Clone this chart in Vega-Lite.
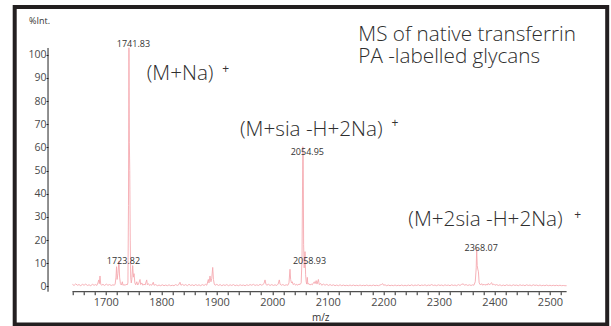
{
  "$schema": "https://vega.github.io/schema/vega-lite/v6.json",
  "width": 592.5,
  "height": 317.5,
  "autosize": "none",
  "padding": {"left": 14.7, "top": 7, "right": 3.8, "bottom": 1.5},
  "background": "white",
  "config": {
    "view": {"stroke": "#231f20", "strokeWidth": 4},
    "font": "Open Sans",
    "axis": {"labelFont": "Open Sans", "titleFont": "Open Sans", "grid": false}
  },
  "datasets": {
    "spec": [
      {"mz":1640,"int":0.9},{"mz":1643,"int":0.4},{"mz":1646,"int":1.1},{"mz":1649,"int":0.5},{"mz":1652,"int":0.8},{"mz":1655,"int":0.3},{"mz":1658,"int":0.9},{"mz":1661,"int":0.5},{"mz":1664,"int":1.0},{"mz":1667,"int":0.4},{"mz":1670,"int":0.7},{"mz":1673,"int":0.3},{"mz":1676,"int":0.9},{"mz":1679,"int":0.5},{"mz":1682,"int":0.8},{"mz":1684,"int":0.4},
      {"mz":1686,"int":1.5},{"mz":1687.5,"int":2.8},{"mz":1688.5,"int":1.2},{"mz":1689.7,"int":4.5},{"mz":1691,"int":1.0},{"mz":1692.5,"int":0.5},{"mz":1695,"int":0.9},{"mz":1698,"int":0.4},{"mz":1701,"int":1.0},{"mz":1704,"int":0.5},{"mz":1707,"int":0.8},{"mz":1710,"int":0.4},{"mz":1713,"int":0.7},{"mz":1715.5,"int":0.5},
      {"mz":1717,"int":1.0},{"mz":1718.5,"int":4.0},{"mz":1719.5,"int":8.5},{"mz":1720.5,"int":3.0},{"mz":1722,"int":5.5},{"mz":1723.82,"int":11.0},{"mz":1725,"int":4.0},{"mz":1726.5,"int":1.2},{"mz":1728,"int":0.6},{"mz":1730,"int":2.0},{"mz":1731,"int":0.5},{"mz":1733,"int":0.8},{"mz":1735,"int":0.4},{"mz":1737,"int":1.0},{"mz":1738.5,"int":0.6},{"mz":1740,"int":1.5},
      {"mz":1741.0,"int":35},{"mz":1741.83,"int":103},{"mz":1742.6,"int":62},{"mz":1743.3,"int":50},{"mz":1744.2,"int":20},{"mz":1745,"int":4},{"mz":1746,"int":1.5},{"mz":1747,"int":3},{"mz":1748.6,"int":9},{"mz":1749.8,"int":4},{"mz":1751,"int":5.5},{"mz":1752.5,"int":1.5},{"mz":1754,"int":0.7},{"mz":1756,"int":2.0},{"mz":1757.5,"int":0.6},{"mz":1759,"int":1.0},{"mz":1761.8,"int":3.0},{"mz":1763,"int":0.8},{"mz":1765,"int":1.5},{"mz":1767,"int":0.5},{"mz":1769,"int":1.0},{"mz":1771,"int":0.6},{"mz":1773.8,"int":2.8},{"mz":1775,"int":0.7},{"mz":1777,"int":1.2},{"mz":1779,"int":0.4},{"mz":1781,"int":0.8},{"mz":1783,"int":0.5},{"mz":1785.7,"int":1.8},{"mz":1787,"int":0.5},{"mz":1790,"int":0.8},{"mz":1793,"int":0.3},{"mz":1796,"int":0.6},{"mz":1799,"int":0.3},{"mz":1802,"int":0.7},{"mz":1805,"int":0.3},{"mz":1808,"int":0.6},{"mz":1811,"int":0.3},{"mz":1814,"int":0.7},{"mz":1817,"int":0.3},{"mz":1820,"int":0.5},{"mz":1823,"int":0.3},{"mz":1826,"int":0.8},{"mz":1829,"int":0.4},{"mz":1831,"int":0.6},{"mz":1833.8,"int":1.8},{"mz":1835.5,"int":0.5},{"mz":1838,"int":0.9},{"mz":1841,"int":0.4},{"mz":1844,"int":0.8},{"mz":1847,"int":0.3},{"mz":1850,"int":0.9},{"mz":1853,"int":0.4},{"mz":1856,"int":0.7},{"mz":1859,"int":0.3},{"mz":1862,"int":0.8},{"mz":1865,"int":0.4},{"mz":1868,"int":0.7},{"mz":1871,"int":0.3},{"mz":1874,"int":0.8},{"mz":1877,"int":0.4},{"mz":1880,"int":0.9},{"mz":1882,"int":0.5},
      {"mz":1884.8,"int":3.0},{"mz":1886,"int":1.5},{"mz":1887.8,"int":4.5},{"mz":1889.5,"int":2.0},{"mz":1891,"int":3.5},{"mz":1892.7,"int":8.2},{"mz":1894,"int":3.0},{"mz":1895.5,"int":1.0},{"mz":1897,"int":0.5},{"mz":1900,"int":0.9},{"mz":1903,"int":0.4},{"mz":1906,"int":0.8},{"mz":1909,"int":0.3},{"mz":1912,"int":0.7},{"mz":1915,"int":0.4},{"mz":1918,"int":0.8},{"mz":1921,"int":0.3},{"mz":1924,"int":0.7},{"mz":1927,"int":0.4},{"mz":1930,"int":0.8},{"mz":1933,"int":0.3},{"mz":1936,"int":0.6},{"mz":1939,"int":0.3},{"mz":1942,"int":0.7},{"mz":1945,"int":0.4},{"mz":1948,"int":0.6},{"mz":1951,"int":0.3},{"mz":1954,"int":0.7},{"mz":1957,"int":0.4},{"mz":1960,"int":0.8},{"mz":1963,"int":0.5},{"mz":1966,"int":0.9},{"mz":1969,"int":0.4},{"mz":1972,"int":0.7},{"mz":1975,"int":0.4},{"mz":1978,"int":0.9},{"mz":1981,"int":0.5},{"mz":1983,"int":0.8},{"mz":1985,"int":1.2},{"mz":1986.9,"int":2.8},{"mz":1988.5,"int":1.0},{"mz":1990,"int":0.5},{"mz":1993,"int":0.9},{"mz":1996,"int":0.4},{"mz":1999,"int":0.8},{"mz":2002,"int":0.4},{"mz":2005,"int":0.7},{"mz":2008,"int":0.4},{"mz":2010.5,"int":1.0},{"mz":2012.6,"int":2.8},{"mz":2014,"int":1.0},{"mz":2016,"int":0.5},{"mz":2019,"int":0.8},{"mz":2022,"int":0.4},{"mz":2025,"int":0.7},{"mz":2028,"int":0.5},{"mz":2030,"int":1.5},{"mz":2031.9,"int":7.4},{"mz":2033,"int":3.0},{"mz":2034.5,"int":1.5},{"mz":2036,"int":2.0},{"mz":2037.5,"int":0.8},{"mz":2040,"int":1.2},{"mz":2042,"int":0.5},{"mz":2044,"int":0.9},{"mz":2046,"int":0.5},{"mz":2048,"int":1.0},{"mz":2050,"int":0.8},{"mz":2052,"int":1.5},{"mz":2053.5,"int":12},{"mz":2054.95,"int":60.3},{"mz":2055.6,"int":59.5},{"mz":2056.4,"int":18},{"mz":2057.5,"int":8},{"mz":2058.93,"int":15},{"mz":2060,"int":5},{"mz":2061,"int":2.0},{"mz":2062,"int":1.0},{"mz":2063,"int":3.9},{"mz":2064,"int":1.0},{"mz":2066,"int":1.2},{"mz":2068,"int":0.6},{"mz":2070,"int":1.0},{"mz":2072,"int":0.7},{"mz":2074,"int":1.5},{"mz":2075.7,"int":2.0},{"mz":2077,"int":1.2},{"mz":2079,"int":2.5},{"mz":2080.5,"int":1.0},{"mz":2083,"int":3.0},{"mz":2084.5,"int":0.8},{"mz":2087,"int":1.3},{"mz":2089,"int":0.5},{"mz":2092,"int":1.0},{"mz":2095,"int":0.5},{"mz":2098,"int":0.9},{"mz":2101,"int":0.4},{"mz":2104,"int":0.8},{"mz":2107,"int":0.4},{"mz":2110,"int":0.7},{"mz":2113,"int":0.3},{"mz":2116,"int":0.6},{"mz":2119,"int":0.3},{"mz":2122,"int":0.7},{"mz":2125,"int":0.3},{"mz":2128,"int":0.6},{"mz":2131,"int":0.3},{"mz":2134,"int":0.5},{"mz":2137,"int":0.3},{"mz":2140,"int":0.6},{"mz":2143,"int":0.3},{"mz":2146,"int":0.6},{"mz":2149,"int":0.3},{"mz":2152,"int":0.5},{"mz":2155,"int":0.3},{"mz":2158,"int":0.6},{"mz":2161,"int":0.3},{"mz":2164,"int":0.5},{"mz":2167,"int":0.3},{"mz":2170,"int":0.6},{"mz":2173,"int":0.3},{"mz":2176,"int":0.5},{"mz":2179,"int":0.3},{"mz":2182,"int":0.6},{"mz":2185,"int":0.3},{"mz":2188,"int":0.5},{"mz":2191,"int":0.3},{"mz":2194,"int":0.6},{"mz":2196.5,"int":0.8},{"mz":2198.8,"int":1.2},{"mz":2200.5,"int":0.5},{"mz":2203,"int":0.7},{"mz":2206,"int":0.3},{"mz":2209,"int":0.6},{"mz":2212,"int":0.3},{"mz":2215,"int":0.5},{"mz":2218,"int":0.3},{"mz":2221,"int":0.6},{"mz":2224,"int":0.3},{"mz":2227,"int":0.5},{"mz":2230,"int":0.3},{"mz":2233,"int":0.6},{"mz":2236,"int":0.3},{"mz":2239,"int":0.5},{"mz":2242,"int":0.3},{"mz":2245,"int":0.6},{"mz":2248,"int":0.3},{"mz":2251,"int":0.7},{"mz":2254,"int":0.3},{"mz":2257,"int":0.6},{"mz":2260,"int":0.4},{"mz":2263,"int":0.7},{"mz":2266,"int":0.3},{"mz":2269,"int":0.6},{"mz":2272,"int":0.4},{"mz":2275,"int":0.7},{"mz":2278,"int":0.3},{"mz":2281,"int":0.6},{"mz":2284,"int":0.4},{"mz":2287,"int":0.8},{"mz":2290,"int":0.4},{"mz":2293,"int":0.6},{"mz":2296,"int":0.3},{"mz":2299,"int":0.7},{"mz":2302,"int":0.4},{"mz":2305,"int":0.6},{"mz":2308,"int":0.3},{"mz":2311,"int":0.7},{"mz":2314,"int":0.4},{"mz":2317,"int":0.6},{"mz":2320,"int":0.3},{"mz":2323,"int":0.7},{"mz":2326,"int":0.4},{"mz":2329,"int":0.6},{"mz":2332,"int":0.3},{"mz":2335,"int":0.8},{"mz":2338,"int":0.4},{"mz":2341,"int":0.9},{"mz":2344,"int":1.1},{"mz":2346,"int":0.5},{"mz":2349,"int":0.8},{"mz":2352,"int":0.4},{"mz":2355,"int":0.7},{"mz":2358,"int":0.4},{"mz":2361,"int":0.7},{"mz":2363,"int":0.5},{"mz":2365.5,"int":2.0},{"mz":2367.2,"int":8},{"mz":2368.07,"int":16.4},{"mz":2369,"int":9},{"mz":2370,"int":7.5},{"mz":2371.2,"int":6.3},{"mz":2372.5,"int":1.5},{"mz":2375,"int":0.6},{"mz":2377,"int":1.2},{"mz":2379,"int":0.5},{"mz":2381,"int":1.0},{"mz":2383,"int":0.5},{"mz":2385,"int":0.9},{"mz":2387,"int":0.6},{"mz":2389,"int":1.3},{"mz":2391,"int":0.6},{"mz":2393,"int":1.2},{"mz":2395,"int":1.6},{"mz":2396.5,"int":0.7},{"mz":2399,"int":1.0},{"mz":2401,"int":0.5},{"mz":2404,"int":0.8},{"mz":2407,"int":0.4},{"mz":2410,"int":0.7},{"mz":2413,"int":0.3},{"mz":2416,"int":0.6},{"mz":2419,"int":0.3},{"mz":2422,"int":0.7},{"mz":2425,"int":0.4},{"mz":2428,"int":0.6},{"mz":2431,"int":0.3},{"mz":2434,"int":0.7},{"mz":2437,"int":0.4},{"mz":2440,"int":0.6},{"mz":2443,"int":0.3},{"mz":2446,"int":0.7},{"mz":2449,"int":0.4},{"mz":2452,"int":0.6},{"mz":2455,"int":0.3},{"mz":2458,"int":0.7},{"mz":2461,"int":0.4},{"mz":2464,"int":0.6},{"mz":2467,"int":0.3},{"mz":2470,"int":0.7},{"mz":2473,"int":0.4},{"mz":2476,"int":0.6},{"mz":2479,"int":0.3},{"mz":2482,"int":0.6},{"mz":2485,"int":0.3},{"mz":2488,"int":0.5},{"mz":2491,"int":0.3},{"mz":2494,"int":0.6},{"mz":2497,"int":0.3},{"mz":2500,"int":0.5},{"mz":2503,"int":0.3},{"mz":2506,"int":0.5},{"mz":2509,"int":0.3},{"mz":2512,"int":0.5},{"mz":2515,"int":0.3},{"mz":2518,"int":0.5},{"mz":2521,"int":0.3},{"mz":2524,"int":0.4},{"mz":2527,"int":0.3},{"mz":2530,"int":0.3}
    ],
    "peaks": [
      {"lbl":"1741.83","mz":1741.83,"y":103.2},
      {"lbl":"1723.82","mz":1723.82,"y":9.7},
      {"lbl":"2054.95","mz":2054.95,"y":56.6},
      {"lbl":"2058.93","mz":2058.93,"y":9.7},
      {"lbl":"2368.07","mz":2368.07,"y":15.3}
    ],
    "notes": [
      {"t":"MS of native transferrin","mz":2154.9,"y":106.0},
      {"t":"PA -labelled glycans","mz":2154.9,"y":96.3},
      {"t":"(M+Na)","mz":1773.8,"y":89.0},
      {"t":"(M+sia -H+2Na)","mz":1941.8,"y":64.9},
      {"t":"(M+2sia -H+2Na)","mz":2244.9,"y":26.1}
    ],
    "plus": [
      {"t":"+","mz":1916.1,"y":93.7},
      {"t":"+","mz":2221.0,"y":70.7},
      {"t":"+","mz":2550.0,"y":30.8}
    ],
    "axlines": [
      {"x1":1640,"x2":2530,"y1":-2.29,"y2":-2.29},
      {"x1":1596.1,"x2":1596.1,"y1":-2.29,"y2":102.9}
    ]
  },
  "layer": [
    {
      "data": {"name": "spec"},
      "mark": {"type": "line", "stroke": "#f5a9b0", "strokeWidth": 0.9, "clip": false},
      "encoding": {
        "x": {
          "field": "mz", "type": "quantitative",
          "scale": {"domain": [1536.1, 2603.1], "nice": false, "zero": false},
          "axis": {
            "orient": "bottom", "offset": -32.8, "domain": false,
            "values": [1640,1660,1680,1700,1720,1740,1760,1780,1800,1820,1840,1860,1880,1900,1920,1940,1960,1980,2000,2020,2040,2060,2080,2100,2120,2140,2160,2180,2200,2220,2240,2260,2280,2300,2320,2340,2360,2380,2400,2420,2440,2460,2480,2500,2520],
            "tickCount": 1000,
            "labelExpr": "datum.value % 100 === 0 ? format(datum.value, 'd') : ''",
            "labelOverlap": false, "labelFlush": false,
            "tickSize": 3, "tickColor": "#222", "tickWidth": 1,
            "labelFontSize": 11, "labelColor": "#4a4a4a", "labelPadding": 2,
            "title": "m/z", "titleFontSize": 10, "titleFontWeight": "normal", "titleColor": "#333",
            "titleX": 305.5, "titleY": 29, "titleBaseline": "alphabetic", "titleAlign": "center", "titleAnchor": null
          }
        },
        "y": {
          "field": "int", "type": "quantitative",
          "scale": {"domain": [-16.44, 120.59], "nice": false, "zero": false},
          "axis": {
            "orient": "left", "offset": -33.3, "domain": false,
            "values": [0,10,20,30,40,50,60,70,80,90,100],
            "tickCount": 1000,
            "format": "d",
            "tickSize": 2, "tickColor": "#222", "tickWidth": 1,
            "labelFontSize": 10.5, "labelColor": "#4a4a4a", "labelPadding": 0,
            "labelOverlap": false, "labelFlush": false,
            "title": "%Int.", "titleAngle": 0, "titleFontSize": 9, "titleFontWeight": "normal", "titleColor": "#333",
            "titleX": -9, "titleY": 16.5, "titleAlign": "center", "titleBaseline": "alphabetic", "titleAnchor": null
          }
        }
      }
    },
    {
      "data": {"name": "axlines"},
      "mark": {"type": "rule", "color": "#222", "strokeWidth": 1},
      "encoding": {
        "x": {"field": "x1", "type": "quantitative"},
        "x2": {"field": "x2"},
        "y": {"field": "y1", "type": "quantitative"},
        "y2": {"field": "y2"}
      }
    },
    {
      "data": {"name": "peaks"},
      "mark": {"type": "text", "fontSize": 9, "color": "#333", "align": "center", "baseline": "alphabetic", "dx": 4.5, "font": "Open Sans"},
      "encoding": {
        "x": {"field": "mz", "type": "quantitative"},
        "y": {"field": "y", "type": "quantitative"},
        "text": {"field": "lbl"}
      }
    },
    {
      "data": {"name": "notes"},
      "mark": {"type": "text", "fontSize": 20.7, "fontWeight": 300, "color": "#2e2e2e", "align": "left", "baseline": "alphabetic", "font": "Open Sans"},
      "encoding": {
        "x": {"field": "mz", "type": "quantitative"},
        "y": {"field": "y", "type": "quantitative"},
        "text": {"field": "t"}
      }
    },
    {
      "data": {"name": "plus"},
      "mark": {"type": "text", "fontSize": 12, "color": "#333", "align": "center", "baseline": "middle", "font": "Open Sans"},
      "encoding": {
        "x": {"field": "mz", "type": "quantitative"},
        "y": {"field": "y", "type": "quantitative"},
        "text": {"field": "t"}
      }
    }
  ]
}
